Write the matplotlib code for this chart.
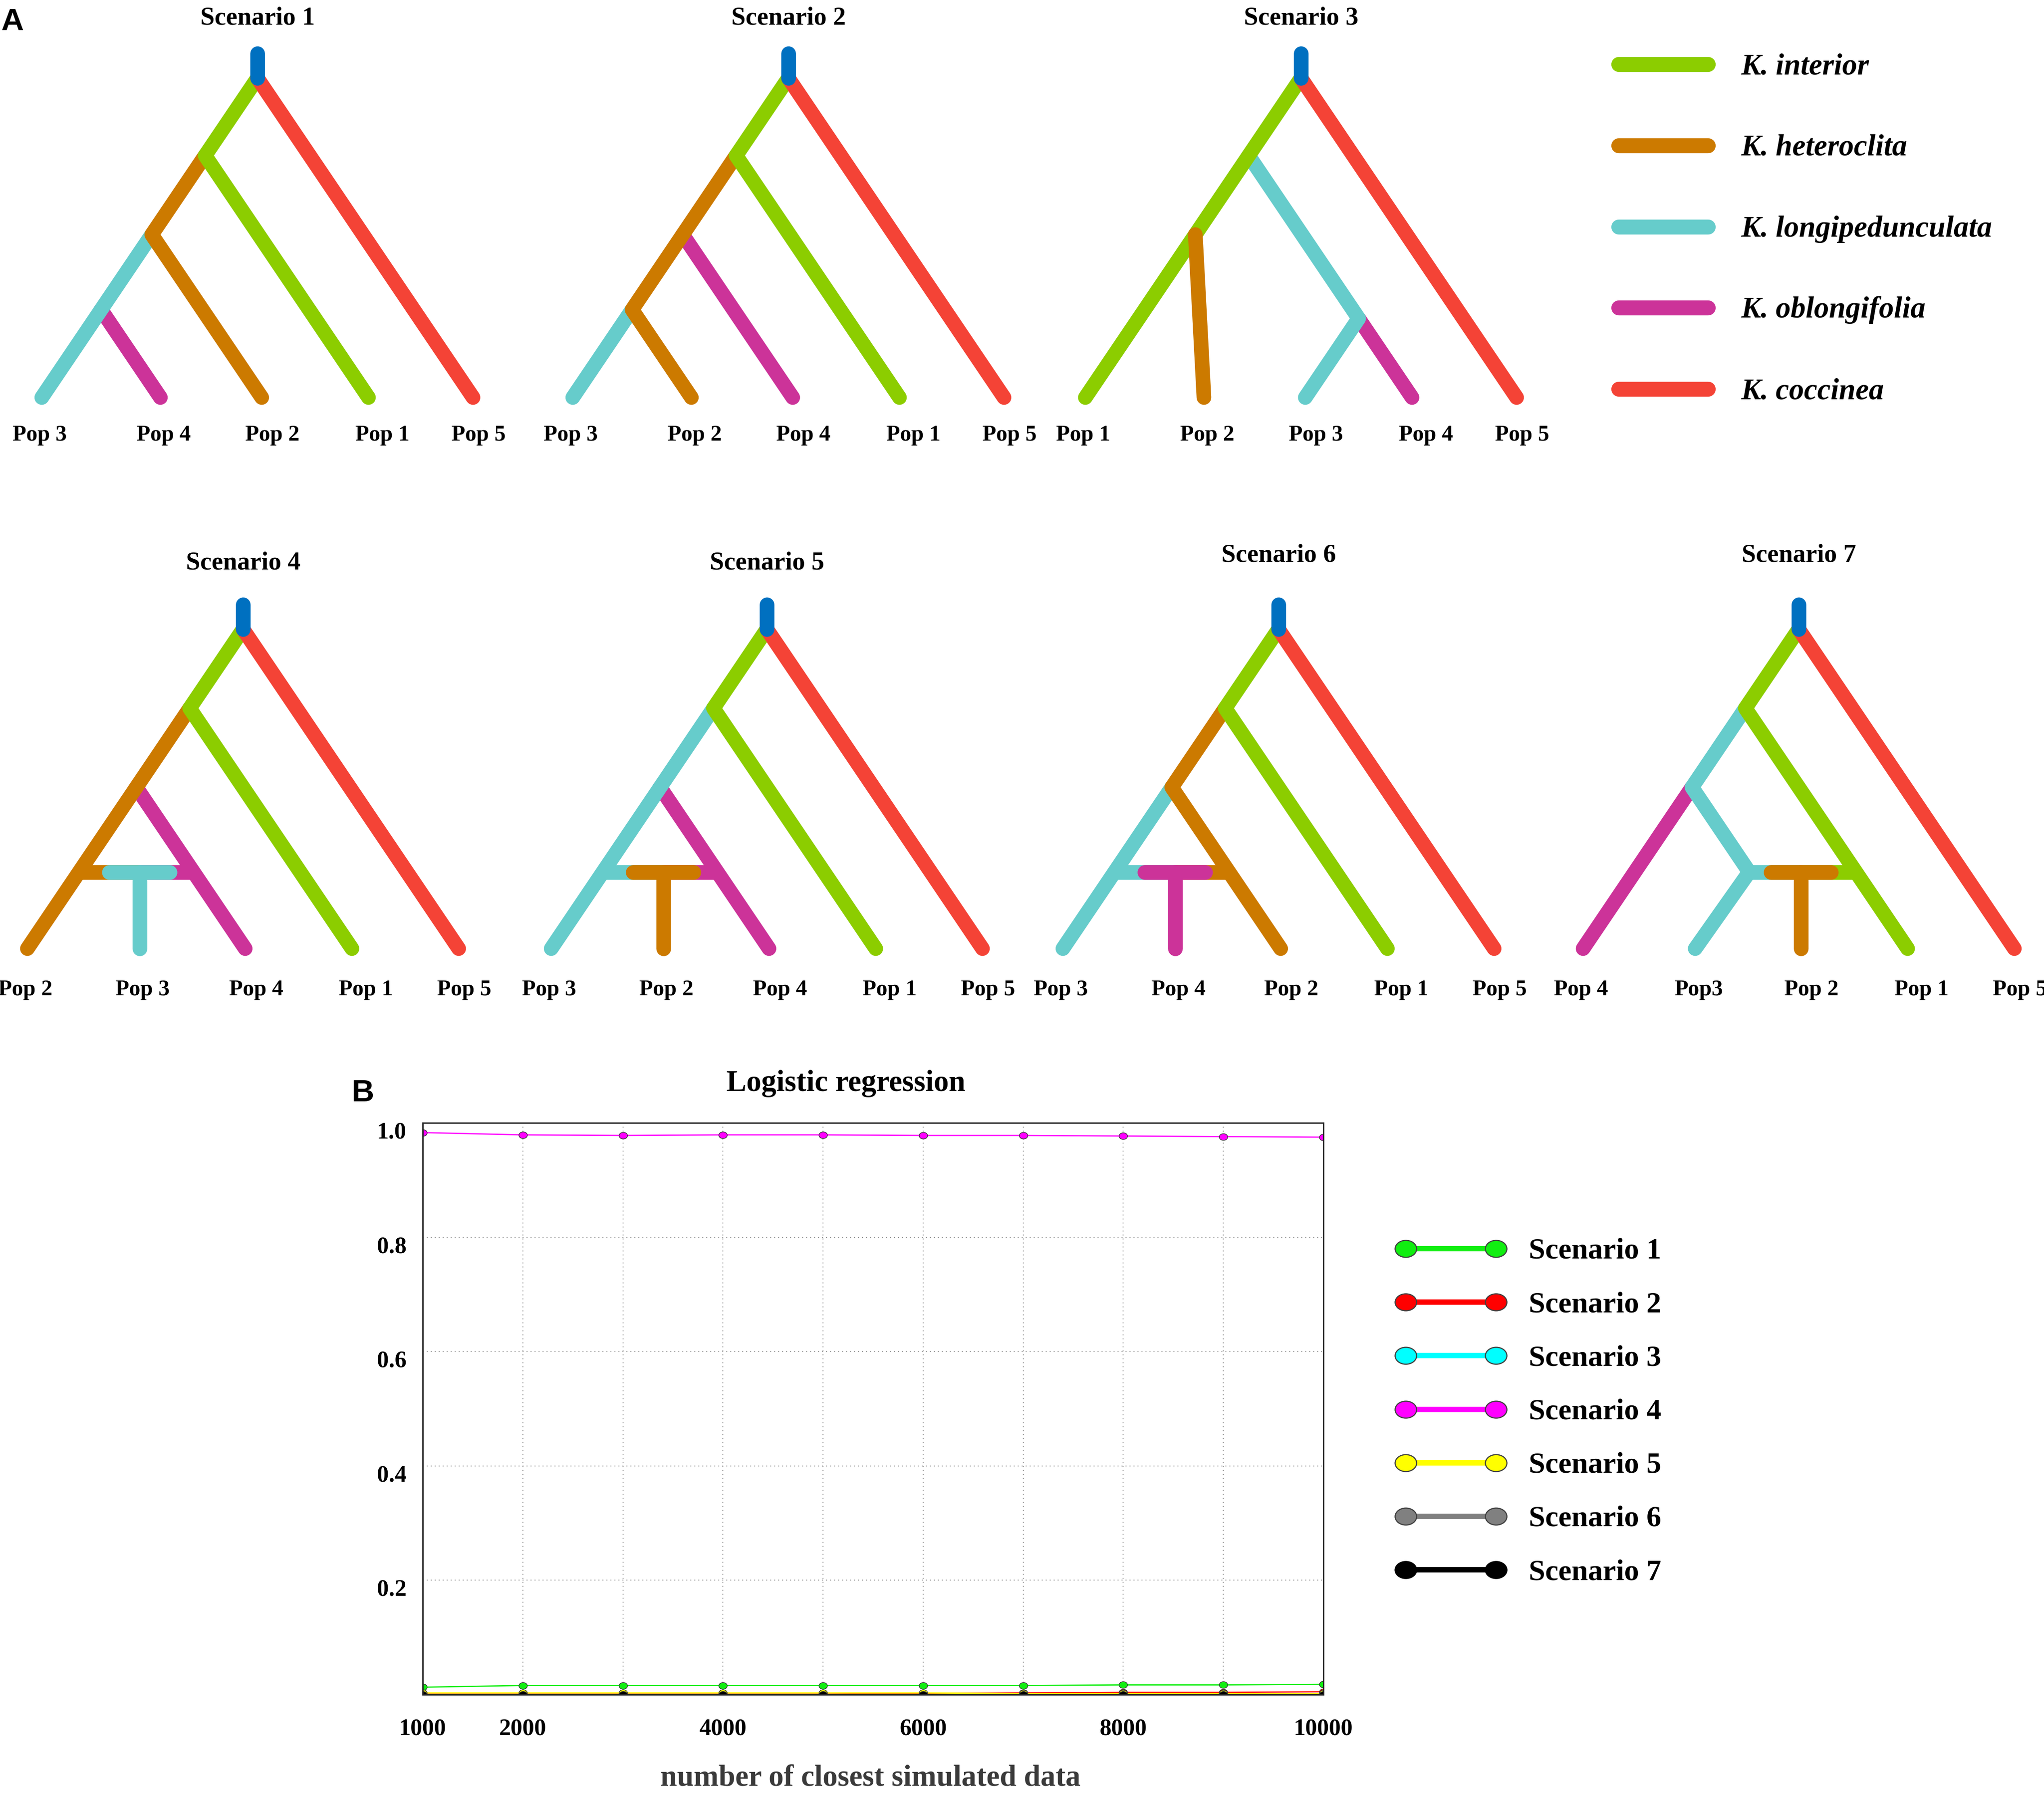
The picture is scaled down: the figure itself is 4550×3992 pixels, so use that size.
import matplotlib
matplotlib.use("Agg")
import matplotlib.pyplot as plt
from matplotlib.path import Path
from matplotlib.transforms import Affine2D, ScaledTranslation

plt.rcParams['font.family'] = ['Liberation Serif', 'DejaVu Serif']
plt.rcParams['font.weight'] = 'bold'

W, H = 4550, 3992

# ---------------- panel A: scenario trees ----------------
SPECIES = ["K. interior", "K. heteroclita", "K. longipedunculata", "K. oblongifolia", "K. coccinea"]
SPECIES_KEYS = ["int", "het", "lon", "obl", "coc"]
SPECIES_COLORS = ["#8ccd00", "#cc7a00", "#66cccb", "#cc3399", "#f44336"]
ANCESTOR_COLOR = "#0070c0"
COL = dict(zip(SPECIES_KEYS, SPECIES_COLORS))

SCENARIO_LEAVES = {
    1: ["Pop 3", "Pop 4", "Pop 2", "Pop 1", "Pop 5"],
    2: ["Pop 3", "Pop 2", "Pop 4", "Pop 1", "Pop 5"],
    3: ["Pop 1", "Pop 2", "Pop 3", "Pop 4", "Pop 5"],
    4: ["Pop 2", "Pop 3", "Pop 4", "Pop 1", "Pop 5"],
    5: ["Pop 3", "Pop 2", "Pop 4", "Pop 1", "Pop 5"],
    6: ["Pop 3", "Pop 4", "Pop 2", "Pop 1", "Pop 5"],
    7: ["Pop 4", "Pop3", "Pop 2", "Pop 1", "Pop 5"],
}

# leaf positions (tree units) for the top and bottom rows
LEAF_X_TOP = [0.0, 1.10, 2.04, 3.03, 4.0]
LEAF_X_BOTTOM = [0.0, 1.04, 2.02, 3.01, 4.0]

# lineages: (species, node path). "Li" = leaf i, "mij" = where leaf i and leaf j lines meet,
# "h:A:B" = point on segment A-B at the admixture height
TREE_PATHS = {
    1: [("obl", ["L1", "m01"]), ("lon", ["L0", "m02"]), ("het", ["L2", "m02", "m03"]),
        ("int", ["L3", "m03", "m04"]), ("coc", ["L4", "m04"])],
    2: [("lon", ["L0", "m01"]), ("obl", ["L2", "m02"]), ("het", ["L1", "m01", "m03"]),
        ("int", ["L3", "m03", "m04"]), ("coc", ["L4", "m04"])],
    3: [("obl", ["L3", "m23"]), ("lon", ["L2", "m23", "m03"]), ("int", ["L0", "m04"]),
        ("het", ["L1", "m02"]), ("coc", ["L4", "m04"])],
    4: [("obl", ["L2", "m02"]), ("het", ["L0", "m03"]), ("int", ["L3", "m03", "m04"]),
        ("coc", ["L4", "m04"])],
    5: [("obl", ["L2", "m02"]), ("lon", ["L0", "m03"]), ("int", ["L3", "m03", "m04"]),
        ("coc", ["L4", "m04"])],
    6: [("lon", ["L0", "m02"]), ("het", ["L2", "m02", "m03"]), ("int", ["L3", "m03", "m04"]),
        ("coc", ["L4", "m04"])],
    7: [("obl", ["L0", "m02"]), ("lon", ["L1", "h:L2:m02", "m02", "m03"]),
        ("int", ["L3", "m03", "m04"]), ("coc", ["L4", "m04"])],
}

# admixture events: (hybrid species, hybrid leaf, (left species, segment), (right species, segment))
ADMIXTURE = {
    4: ("lon", 1, ("het", "L0", "m03"), ("obl", "L2", "m02")),
    5: ("het", 1, ("lon", "L0", "m03"), ("obl", "L2", "m02")),
    6: ("obl", 1, ("lon", "L0", "m02"), ("het", "L2", "m02")),
    7: ("het", 2, ("lon", "L2", "m02"), ("int", "L3", "m03")),
}

SLOPE = 0.675      # horizontal run per unit height of the branches
ADMIX_H = 0.71
ADMIX_HALF = 0.28
STUB = 0.23

# ---------------- panel B: logistic regression ----------------
N_CLOSEST = [1000, 2000, 3000, 4000, 5000, 6000, 7000, 8000, 9000, 10000]
X_TICK_LABELS = ["1000", "2000", "", "4000", "", "6000", "", "8000", "", "10000"]
SCENARIOS = ["Scenario 1", "Scenario 2", "Scenario 3", "Scenario 4",
             "Scenario 5", "Scenario 6", "Scenario 7"]
SCENARIO_COLORS = ["#11ee11", "#ff0000", "#00ffff", "#ff00ff", "#ffff00", "#808080", "#000000"]
PROB_S1 = [0.013, 0.016, 0.016, 0.016, 0.016, 0.016, 0.016, 0.017, 0.017, 0.018]
PROB_S2 = [0.001, 0.001, 0.001, 0.001, 0.001, 0.002, 0.003, 0.004, 0.004, 0.005]
PROB_S3 = [0.000, 0.000, 0.000, 0.000, 0.000, 0.000, 0.000, 0.000, 0.000, 0.000]
PROB_S4 = [0.983, 0.979, 0.978, 0.979, 0.979, 0.978, 0.978, 0.977, 0.976, 0.975]
PROB_S5 = [0.003, 0.003, 0.003, 0.003, 0.003, 0.003, 0.002, 0.002, 0.002, 0.002]
PROB_S6 = [0.000, 0.000, 0.000, 0.000, 0.000, 0.000, 0.000, 0.000, 0.000, 0.000]
PROB_S7 = [0.000, 0.000, 0.000, 0.000, 0.000, 0.000, 0.000, 0.000, 0.000, 0.000]
PROBS = [PROB_S1, PROB_S2, PROB_S3, PROB_S4, PROB_S5, PROB_S6, PROB_S7]


def node_xy(name, lx):
    if name.startswith("L"):
        return lx[int(name[1])], 0.0
    if name.startswith("m"):
        i, j = int(name[1]), int(name[2])
        return (lx[i] + lx[j]) / 2, (lx[j] - lx[i]) / (2 * SLOPE)
    _, a, b = name.split(":")
    (xa, ha), (xb, hb) = node_xy(a, lx), node_xy(b, lx)
    t = (ADMIX_H - ha) / (hb - ha)
    return xa + t * (xb - xa), ADMIX_H


fig = plt.figure(figsize=(W / 100, H / 100), dpi=100)

U = 240  # px per tree unit
TREE_ORIGIN = {1: (93, 885), 2: (1275, 885), 3: (2416, 885),
               4: (61, 2112), 5: (1227, 2112), 6: (2366, 2112), 7: (3524, 2112)}
TITLE_H = {1: 3.46, 2: 3.46, 3: 3.46, 4: 3.52, 5: 3.52, 6: 3.59, 7: 3.59}
LABEL_SHIFT = [-0.02, 0.03, 0.10, 0.13, 0.05]
XL, XR, YB, YT = -0.6, 4.6, -0.6, 3.85
LW = 23.5

for k in range(1, 8):
    ox, oy = TREE_ORIGIN[k]
    ax = fig.add_axes([(ox + XL * U) / W, 1 - (oy - YB * U) / H,
                       (XR - XL) * U / W, (YT - YB) * U / H])
    ax.set_xlim(XL, XR)
    ax.set_ylim(YB, YT)
    ax.axis("off")
    lx = LEAF_X_TOP if k <= 3 else LEAF_X_BOTTOM
    line_kw = dict(lw=LW, solid_capstyle="round", solid_joinstyle="round", clip_on=False)

    for sp, path in TREE_PATHS[k]:
        pts = [node_xy(n, lx) for n in path]
        ax.plot([p[0] for p in pts], [p[1] for p in pts], color=COL[sp], **line_kw)

    if k in ADMIXTURE:
        hyb, leaf, (lsp, la, lb), (rsp, ra, rb) = ADMIXTURE[k]
        hx = lx[leaf]
        xl = node_xy("h:%s:%s" % (la, lb), lx)[0]
        xr = node_xy("h:%s:%s" % (ra, rb), lx)[0]
        ax.plot([xl, hx], [ADMIX_H, ADMIX_H], color=COL[lsp], lw=LW, solid_capstyle="butt")
        ax.plot([hx, xr], [ADMIX_H, ADMIX_H], color=COL[rsp], lw=LW, solid_capstyle="butt")
        ax.plot([hx - ADMIX_HALF, hx + ADMIX_HALF], [ADMIX_H, ADMIX_H], color=COL[hyb], **line_kw)
        ax.plot([hx, hx], [ADMIX_H, 0], color=COL[hyb], **line_kw)

    rx, rh = node_xy("m04", lx)
    ax.plot([rx, rx], [rh, rh + STUB], color=ANCESTOR_COLOR, **line_kw)

    ax.text(rx, TITLE_H[k], "Scenario %d" % k, ha="center", va="baseline", fontsize=41)
    label_h = -0.40 if k <= 3 else -0.435
    for i, lab in enumerate(SCENARIO_LEAVES[k]):
        ax.text(lx[i] + LABEL_SHIFT[i], label_h, lab, ha="center", va="baseline", fontsize=36)

# overlay in pixel coordinates for legends and panel letters
ov = fig.add_axes([0, 0, 1, 1])
ov.set_xlim(0, W)
ov.set_ylim(H, 0)
ov.axis("off")

for i, (name, c) in enumerate(zip(SPECIES, SPECIES_COLORS)):
    y = 143 + i * 180.8
    ov.plot([3603, 3802], [y, y], color=c, lw=24, solid_capstyle="round")
    ov.text(3875, y + 22, name, fontsize=48, style="italic", va="baseline", ha="left")

ov.text(2, 67, "A", fontsize=50, family=["Liberation Sans", "DejaVu Sans"],
        weight="bold", va="baseline", ha="left")
ov.text(782, 2452, "B", fontsize=50, family=["Liberation Sans", "DejaVu Sans"],
        weight="bold", va="baseline", ha="left")

ellipse = Path.unit_circle().transformed(Affine2D().scale(1.27, 1.0))

for i, (name, c) in enumerate(zip(SCENARIOS, SCENARIO_COLORS)):
    y = 2780 + i * 119.2
    ov.plot([3129, 3330], [y, y], color=c, lw=8.6, marker=ellipse, ms=34.5,
            mfc=c, mec="#404040" if i < 6 else "#000000", mew=1.8)
    ov.text(3403, y + 22, name, fontsize=47.5, va="baseline", ha="left")

# panel B axes
axB = fig.add_axes([941 / W, (H - 3773) / H, (2946 - 941) / W, (3773 - 2500) / H])
for name, c, vals in zip(SCENARIOS, SCENARIO_COLORS, PROBS):
    axB.plot(N_CLOSEST, vals, color=c, lw=2, marker=ellipse, ms=13.5,
             mfc=c, mec="#333333", mew=1.0, label=name)

axB.set_xlim(1000, 10000)
axB.set_ylim(0, 1.0)
axB.set_xticks(N_CLOSEST)
axB.set_xticklabels(X_TICK_LABELS)
axB.set_yticks([0.2, 0.4, 0.6, 0.8, 1.0])
axB.set_yticklabels(["0.2", "0.4", "0.6", "0.8", "1.0"])
axB.grid(True, linestyle=(0, (1, 3)), color="#9a9a9a", lw=1.6)
axB.tick_params(axis="both", length=0, labelsize=38)
axB.tick_params(axis="x", pad=38)
axB.tick_params(axis="y", pad=26)
shift = ScaledTranslation(0, -0.16, fig.dpi_scale_trans)
for lab in axB.get_yticklabels():
    lab.set_transform(lab.get_transform() + shift)
for s in axB.spines.values():
    s.set_linewidth(2.2)
    s.set_color("#222222")

axB.text(0.47, 1 + (2500 - 2429) / 1273, "Logistic regression", transform=axB.transAxes,
         ha="center", va="baseline", fontsize=48)
axB.text(0.497, -(3975 - 3773) / 1273, "number of closest simulated data",
         transform=axB.transAxes, ha="center", va="baseline", fontsize=48, color="#3a3a3a")

fig.savefig("out.png", dpi=100)
